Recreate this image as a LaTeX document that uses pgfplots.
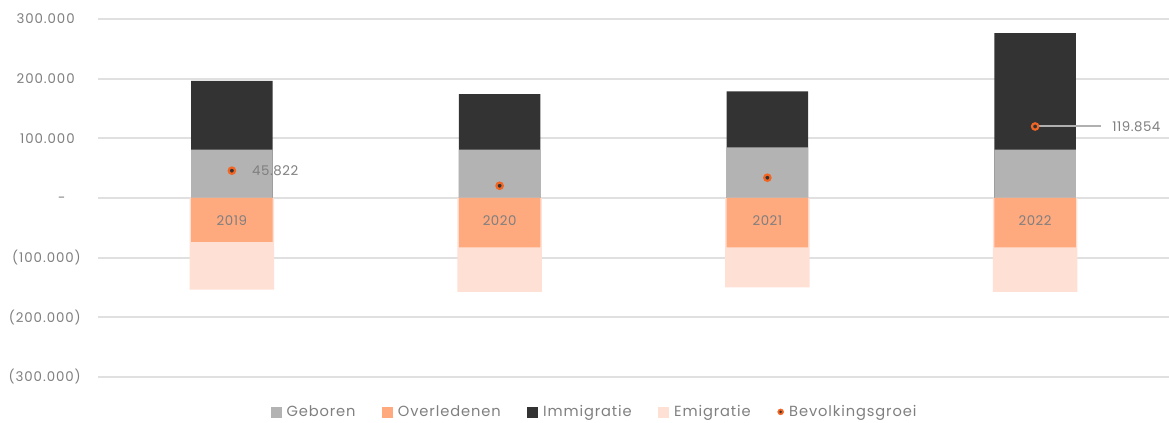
\documentclass[border=0pt]{standalone}
\usepackage{pgfplots}
\pgfplotsset{compat=1.18}
\usepackage{pgfplotstable}
\usepackage{fontspec}
\setmainfont{Poppins}
\usetikzlibrary{calc}
\definecolor{geb}{HTML}{B3B3B3}
\definecolor{ovl}{HTML}{FFA97F}
\definecolor{imm}{HTML}{333333}
\definecolor{emi}{HTML}{FFE0D5}
\definecolor{dotc}{HTML}{F26522}
\definecolor{txt}{HTML}{7F7F7F}
\definecolor{gridc}{HTML}{E0E0E0}
\definecolor{lead}{HTML}{B0B0B0}
\newcommand{\tickfont}{\fontsize{10}{12}\selectfont\addfontfeature{LetterSpace=7}}
\newcommand{\lblfont}{\fontsize{10}{12}\selectfont\addfontfeature{LetterSpace=4}}

\pgfplotstableread{
x geb ovl imm emi groei
0 80900 -73700 115600 -79900 45822
1 80900 -82700 93300 -74800 20500
2 84800 -82700 93800 -67000 34000
3 80900 -82700 195500 -74800 119854
}\data

\begin{document}
\begin{tikzpicture}
\begin{axis}[
  scale only axis, width=803.25pt, height=268.5pt,
  xmin=-0.5, xmax=3.5, ymin=-300000, ymax=300000,
  scaled y ticks=false,
  axis line style={draw=none},
  xtick=\empty,
  ytick={-300000,-200000,-100000,0,100000,200000,300000},
  yticklabels={{(300.000)},{(200.000)},{(100.000)},{-\phantom{0)}},{100.000\phantom{)}},{200.000\phantom{)}},{300.000\phantom{)}}},
  yticklabel style={font=\tickfont, text=txt, inner sep=0pt, xshift=-12.75pt},
  major tick length=0pt,
  ymajorgrids, grid style={gridc, line width=1.5pt},
  legend columns=5,
  legend style={draw=none, fill=none, at={(0.464,-0.0978)}, anchor=center,
    font=\fontsize{11}{12}\selectfont\addfontfeature{LetterSpace=6}, text=txt,
    /tikz/every odd column/.append style={column sep=2pt},
    /tikz/every even column/.append style={column sep=18pt}},
  legend cell align=left,
]
\addlegendimage{legend image code/.code={\fill[geb] (0pt,-3.6pt) rectangle (7.4pt,3.8pt);}}
\addlegendentry{Geboren}
\addlegendimage{legend image code/.code={\fill[ovl] (0pt,-3.6pt) rectangle (7.4pt,3.8pt);}}
\addlegendentry{Overledenen}
\addlegendimage{legend image code/.code={\fill[imm] (0pt,-3.6pt) rectangle (7.4pt,3.8pt);}}
\addlegendentry{Immigratie}
\addlegendimage{legend image code/.code={\fill[emi] (0pt,-3.6pt) rectangle (7.4pt,3.8pt);}}
\addlegendentry{Emigratie}
\addlegendimage{legend image code/.code={\fill[dotc] (3.7pt,0.1pt) circle (2.2pt); \fill[imm] (3.7pt,0.1pt) circle (0.7pt);}}
\addlegendentry{Bevolkingsgroei}

\addplot[ybar, forget plot, bar width=0.305, bar shift=0pt, fill=imm, draw=none]
  table[x=x, y expr=\thisrow{geb}+\thisrow{imm}] {\data};
\addplot[ybar, forget plot, bar width=0.305, bar shift=0pt, fill=geb, draw=none]
  table[x=x, y=geb] {\data};
\addplot[ybar, forget plot, bar width=0.316, bar shift=0pt, fill=emi, draw=none]
  table[x=x, y expr=\thisrow{ovl}+\thisrow{emi}] {\data};
\addplot[ybar, forget plot, bar width=0.305, bar shift=0pt, fill=ovl, draw=none]
  table[x=x, y=ovl] {\data};

\draw[lead, line width=1.5pt] (axis cs:2.985,119854) -- (axis cs:3.247,119854);

\addplot[only marks, forget plot, mark=*, mark size=2.4pt,
  mark options={draw=dotc, fill=imm, line width=1.6pt}]
  table[x=x, y=groei] {\data};

\node[font=\lblfont, text=txt] at (axis cs:0,-38000) {2019};
\node[font=\lblfont, text=txt] at (axis cs:1,-38000) {2020};
\node[font=\lblfont, text=txt] at (axis cs:2,-38000) {2021};
\node[font=\lblfont, text=txt] at (axis cs:3,-38000) {2022};
\node[font=\lblfont, text=txt, anchor=west, inner sep=0pt] at (axis cs:0.075,45822) {45.822};
\node[font=\lblfont, text=txt, anchor=west, inner sep=0pt] at (axis cs:3.287,119854) {119.854};
\end{axis}
\pgfresetboundingbox
\path[use as bounding box] ($(current axis.south west)+(-73.5pt,-34.5pt)$) rectangle ($(current axis.north east)+(0pt,14.25pt)$);
\end{tikzpicture}
\end{document}
